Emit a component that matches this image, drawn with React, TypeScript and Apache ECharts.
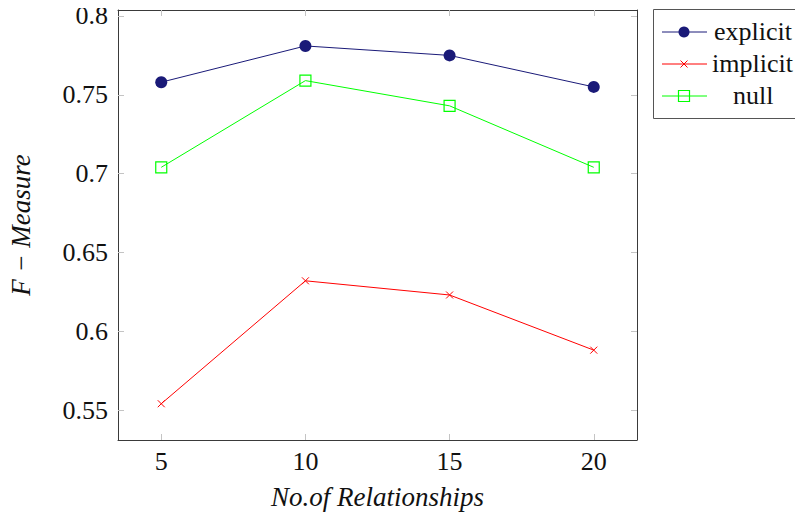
import React, { useEffect, useRef } from "react";
import * as echarts from "echarts";

const xValues = [5, 10, 15, 20];
const explicitValues = [0.758, 0.781, 0.775, 0.755];
const implicitValues = [0.554, 0.632, 0.623, 0.588];
const nullValues = [0.704, 0.759, 0.743, 0.704];
const yTicks = [0.55, 0.6, 0.65, 0.7, 0.75, 0.8];
const xTicks = [5, 10, 15, 20];
const seriesNames = ["explicit", "implicit", "null"];

const NAVY = "#1a1a78";
const RED = "#ff0000";
const GREEN = "#00ff00";
const TICK = "#c4c4c4";
const FRAME = "#3a3a3a";

const crossPath = "path://M0,0L10,10M10,0L0,10";
// the chart div sits at the body's 8px margin
const OFF = 8;

export default function App() {
  const ref = useRef<HTMLDivElement>(null);
  useEffect(() => {
    if (!ref.current) return;
    const chart = echarts.init(ref.current, undefined, { renderer: "svg" });
    const pairs = (ys: number[]) => xValues.map((x, i) => [x, ys[i]]);
    const serif = "Liberation Serif";
    const tickStyle = { show: true, inside: true, length: 6, lineStyle: { color: TICK, width: 1 } };
    const lineStyle = { color: FRAME, width: 1 };

    const legendX0 = 662 - OFF;
    const legendX1 = 707 - OFF;
    const legendMid = 684 - OFF;
    const legendRows = [32 - OFF, 64 - OFF, 96 - OFF];
    const legendTextX = [714 - OFF, 712 - OFF, 733 - OFF];
    const legendColors = [NAVY, RED, GREEN];
    const legendGraphics: any[] = [
      {
        type: "rect",
        shape: { x: 653.5 - OFF, y: 9.5 - OFF, width: 160, height: 109 },
        style: { fill: "#fff", stroke: "#555", lineWidth: 1 },
      },
    ];
    seriesNames.forEach((name, i) => {
      const y = legendRows[i];
      legendGraphics.push({
        type: "line",
        shape: { x1: legendX0, y1: y, x2: legendX1, y2: y },
        style: { stroke: legendColors[i], lineWidth: 1 },
      });
      if (i === 0) {
        legendGraphics.push({
          type: "circle",
          shape: { cx: legendMid, cy: y, r: 5.5 },
          style: { fill: NAVY },
        });
      } else if (i === 1) {
        legendGraphics.push({
          type: "line",
          shape: { x1: legendMid - 3.5, y1: y - 3.5, x2: legendMid + 3.5, y2: y + 3.5 },
          style: { stroke: RED, lineWidth: 1 },
        });
        legendGraphics.push({
          type: "line",
          shape: { x1: legendMid - 3.5, y1: y + 3.5, x2: legendMid + 3.5, y2: y - 3.5 },
          style: { stroke: RED, lineWidth: 1 },
        });
      } else {
        legendGraphics.push({
          type: "rect",
          shape: { x: legendMid - 5.5, y: y - 5.5, width: 11, height: 11 },
          style: { fill: "none", stroke: GREEN, lineWidth: 1.2 },
        });
      }
      legendGraphics.push({
        type: "text",
        x: legendTextX[i],
        y: y - 14,
        style: {
          text: name,
          fontFamily: serif,
          fontSize: 26,
          fill: "#111",
        },
      });
    });

    chart.setOption({
      animation: false,
      textStyle: { fontFamily: serif },
      grid: { left: 118 - OFF, top: 10 - OFF, width: 519, height: 430, containLabel: false, outerBoundsMode: "none" },
      xAxis: [
        {
          type: "value",
          min: 3.5,
          max: 21.5,
          position: "bottom",
          axisLine: { show: true, onZero: false, lineStyle },
          axisTick: { ...tickStyle, customValues: xTicks },
          axisLabel: {
            customValues: xTicks,
            margin: 8,
            fontFamily: serif,
            fontSize: 26,
            color: "#111",
          },
          splitLine: { show: false },
          name: "No.of Relationships",
          nameLocation: "middle",
          nameGap: 43,
          nameTextStyle: { fontFamily: serif, fontStyle: "italic", fontSize: 27, color: "#111" },
        },
        {
          type: "value",
          min: 3.5,
          max: 21.5,
          position: "top",
          axisLine: { show: true, onZero: false, lineStyle },
          axisTick: { ...tickStyle, customValues: xTicks },
          axisLabel: { show: false },
          splitLine: { show: false },
        },
      ],
      yAxis: [
        {
          type: "value",
          min: 0.531,
          max: 0.8038,
          position: "left",
          axisLine: { show: true, onZero: false, lineStyle },
          axisTick: { ...tickStyle, customValues: yTicks },
          axisLabel: {
            customValues: yTicks,
            margin: 10,
            fontFamily: serif,
            fontSize: 26,
            color: "#111",
            formatter: (v: number) => String(Math.round(v * 100) / 100),
          },
          splitLine: { show: false },
          name: "F − Measure",
          nameLocation: "middle",
          nameGap: 84,
          nameRotate: 90,
          nameTextStyle: { fontFamily: serif, fontStyle: "italic", fontSize: 27, color: "#111" },
        },
        {
          type: "value",
          min: 0.531,
          max: 0.8038,
          position: "right",
          axisLine: { show: true, onZero: false, lineStyle },
          axisTick: { ...tickStyle, customValues: yTicks },
          axisLabel: { show: false },
          splitLine: { show: false },
        },
      ],
      series: [
        {
          name: seriesNames[0],
          type: "line",
          data: pairs(explicitValues),
          symbol: "circle",
          symbolSize: 12,
          lineStyle: { color: NAVY, width: 1 },
          itemStyle: { color: NAVY },
          z: 3,
        },
        {
          name: seriesNames[1],
          type: "line",
          data: pairs(implicitValues),
          symbol: crossPath,
          symbolSize: 7,
          lineStyle: { color: RED, width: 1 },
          itemStyle: { color: "none", borderColor: RED, borderWidth: 1 },
          z: 3,
        },
        {
          name: seriesNames[2],
          type: "line",
          data: pairs(nullValues),
          symbol: "rect",
          symbolSize: 11,
          lineStyle: { color: GREEN, width: 1 },
          itemStyle: { color: "none", borderColor: GREEN, borderWidth: 1.2 },
          z: 3,
        },
      ],
      graphic: legendGraphics,
    });
    return () => chart.dispose();
  }, []);
  return <div ref={ref} style={{ width: 795, height: 510, background: "#fff" }} />;
}
